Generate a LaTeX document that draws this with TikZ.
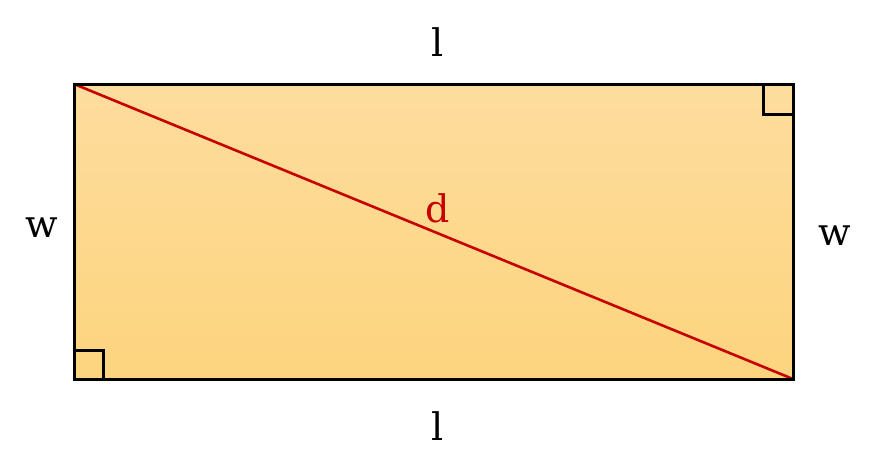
\documentclass[tikz,border=0pt]{standalone}
\usepackage{fontspec}
\setmainfont{DejaVu Serif}
\usepackage{tikz}
\definecolor{boxtop}{RGB}{253,221,158}
\definecolor{boxbottom}{RGB}{253,212,126}
\definecolor{diagred}{RGB}{200,0,0}

\begin{document}
\begin{tikzpicture}[x=0.5pt,y=-0.5pt,line join=miter,
                    font=\fontsize{19}{23}\selectfont]
  \tikzstyle{side label}=[inner sep=0pt,text=black]
  \tikzstyle{right angle}=[draw=black,line width=1.5pt]

  \useasboundingbox (0,0) rectangle (877,473);

  \coordinate (TL) at (74,84);
  \coordinate (TR) at (793,84);
  \coordinate (BL) at (74,379);
  \coordinate (BR) at (793,379);

  % the rectangle with its fill
  \shade[top color=boxtop,bottom color=boxbottom] (TL) rectangle (BR);
  \draw[diagred,line width=1.3pt] (TL) -- (BR);
  \draw[right angle] (763,84) |- (793,114);
  \draw[right angle] (74,350) -| (103,379);
  \draw[black,line width=1.5pt] (TL) rectangle (BR);

  \node[side label]         (ltop)    at (438,42)   {l};
  \node[side label]         (lbottom) at (438,426)  {l};
  \node[side label]         (wleft)   at (42,228)   {w};
  \node[side label]         (wright)  at (835,236)  {w};
  \node[side label,text=diagred] (dlab) at (438,208) {d};
\end{tikzpicture}
\end{document}
